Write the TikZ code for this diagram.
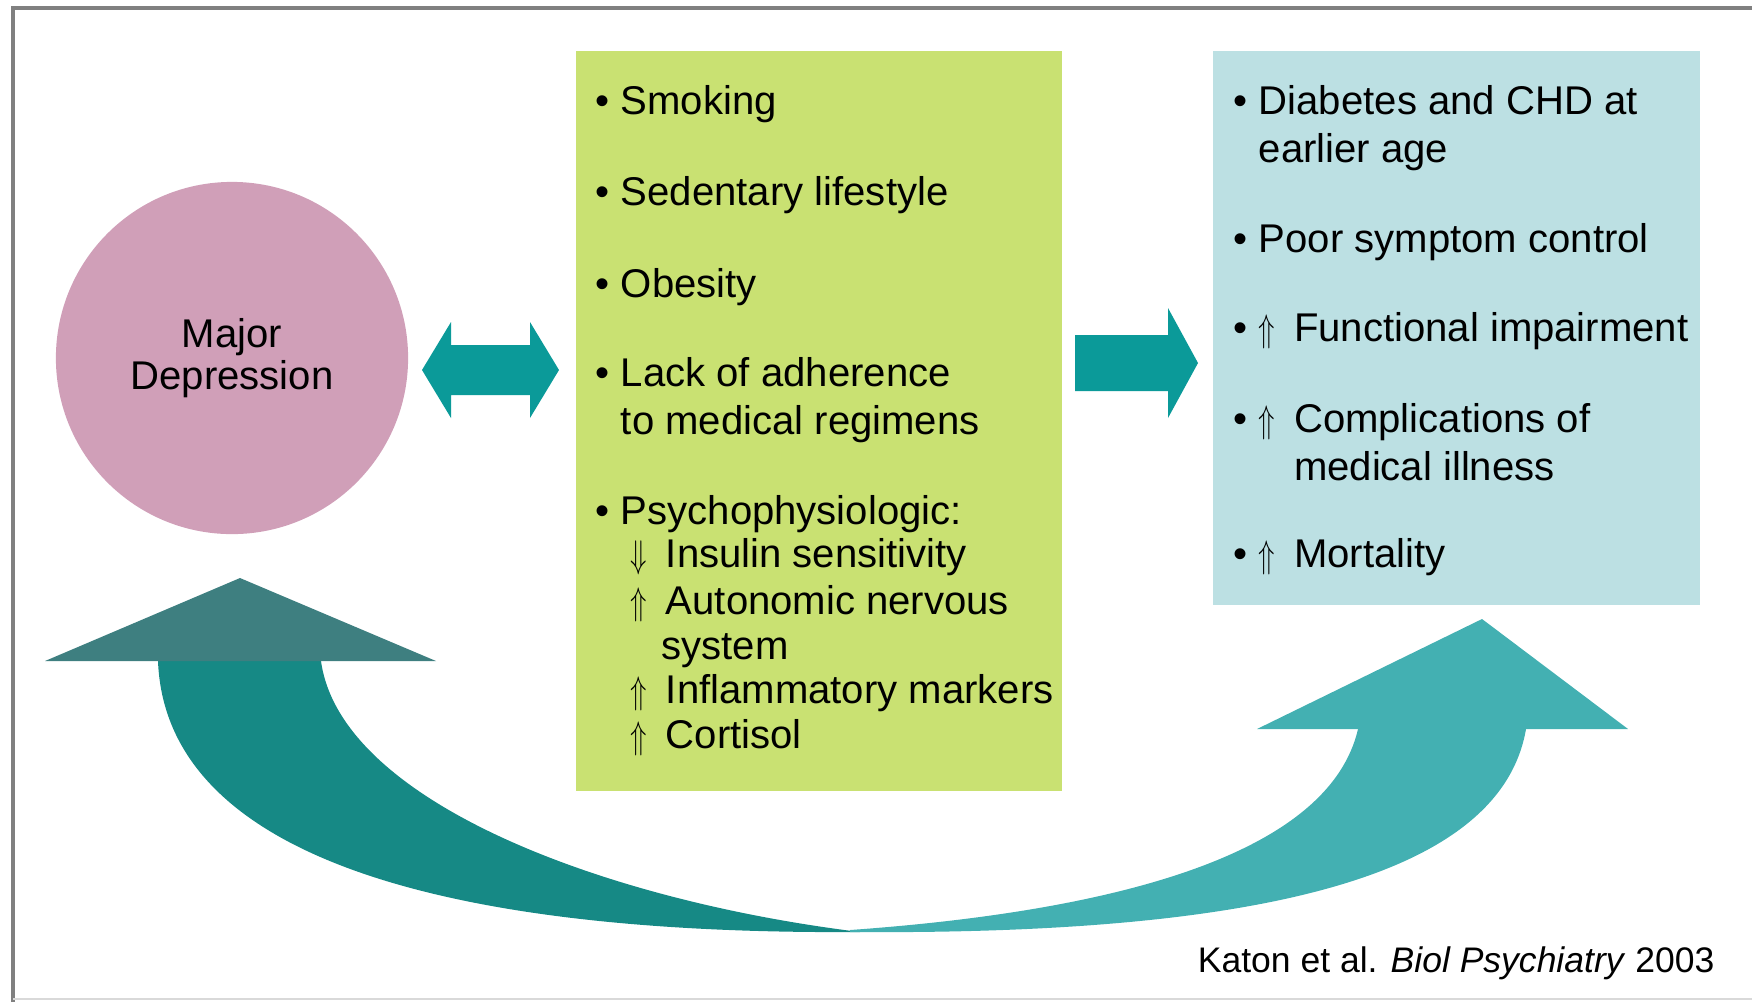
\documentclass[tikz,border=0pt]{standalone}
\usepackage{fontspec}
\setmainfont{Liberation Sans}
\usepackage{tikz}
\usetikzlibrary{positioning}

\definecolor{pinkdep}{RGB}{208,159,184}
\definecolor{limebox}{RGB}{201,225,114}
\definecolor{icebox}{RGB}{188,224,227}
\definecolor{tealarr}{RGB}{11,154,153}
\definecolor{tealdark}{RGB}{22,137,133}
\definecolor{tealhead}{RGB}{62,127,128}
\definecolor{teallight}{RGB}{67,176,178}
\definecolor{framegray}{RGB}{128,128,128}

\newcommand{\upar}{\makebox[10pt][l]{\scalebox{0.7}[1]{$\Uparrow$}}}
\newcommand{\dnar}{\makebox[10pt][l]{\scalebox{0.7}[1]{$\Downarrow$}}}

\begin{document}
\begin{tikzpicture}[x=0.01cm, y=-0.01cm,
    item/.style={anchor=base west, inner sep=0pt, align=left,
      font=\fontsize{11.4}{13.4}\selectfont},
    subitem/.style={item, font=\fontsize{11.4}{12.8}\selectfont}]
    \useasboundingbox (0,0) rectangle (1752,1002);
    %frame
    \draw[framegray, line width=1.2pt] (13,1002) -- (13,8) -- (1752,8);
    \draw[black!15, line width=0.6pt] (13,999) -- (1752,999);
    %boxes
    \node[circle, fill=pinkdep, minimum size=3.52cm, inner sep=0pt, align=center,
      font=\fontsize{11.4}{12}\selectfont] (dep) at (232,358) {Major\\Depression};
    \node[fill=limebox, anchor=north west, inner sep=0pt,
      minimum width=4.86cm, minimum height=7.40cm] (risk) at (575,50) {};
    \node[fill=icebox, anchor=north west, inner sep=0pt,
      minimum width=4.87cm, minimum height=5.54cm] (outc) at (1212,50) {};
    %block arrows
    \fill[tealarr] (422,370) -- (451,322) -- (451,345) -- (530,345) -- (530,322)
      -- (559,370) -- (530,418) -- (530,395) -- (451,395) -- (451,418) -- cycle;
    \fill[tealarr] (1075,335) -- (1168,335) -- (1168,308) -- (1198,363)
      -- (1168,418) -- (1168,391) -- (1075,391) -- cycle;
    %curved arrow back
    \fill[tealdark] (158,661) .. controls (165,840) and (400,935) .. (860,932)
      .. controls (600,900) and (340,800) .. (321,661) -- cycle;
    \fill[teallight] (850,932) .. controls (1250,935) and (1500,880) .. (1526,729)
      -- (1358,729) .. controls (1330,850) and (1130,910) .. (850,930) -- cycle;
    \fill[tealhead] (45,661) -- (240,578) -- (436,661) -- cycle;
    \fill[teallight] (1257,729) -- (1482,619) -- (1628,729) -- cycle;
    %risk factors (multi-line nodes sit on their last line)
    \node[item] (smk) at (595,114) {\textbullet\ Smoking};
    \node[item] (sed) at (595,205) {\textbullet\ Sedentary lifestyle};
    \node[item] (obe) at (595,297) {\textbullet\ Obesity};
    \node[item] (adh) at (595,434) {\textbullet\ Lack of adherence\\\hphantom{\textbullet\ }to medical regimens};
    \node[item] (psy) at (595,524) {\textbullet\ Psychophysiologic:};
    \node[subitem] (ins) at (630,567) {\dnar Insulin sensitivity};
    \node[subitem] (ans) at (630,659) {\upar Autonomic nervous\\\hspace*{8.8pt}system};
    \node[subitem] (inf) at (630,703) {\upar Inflammatory markers};
    \node[subitem] (cor) at (630,748) {\upar Cortisol};
    %outcomes
    \node[item] (dia) at (1233,162) {\textbullet\ Diabetes and CHD at\\\hphantom{\textbullet\ }earlier age};
    \node[item] (poor) at (1233,252) {\textbullet\ Poor symptom control};
    \node[item] (func) at (1233,341) {\textbullet\ \upar Functional impairment};
    \node[item] (comp) at (1233,480) {\textbullet\ \upar Complications of\\\hphantom{\textbullet\ \upar}medical illness};
    \node[item] (mort) at (1233,567) {\textbullet\ \upar Mortality};
    %source
    \node[anchor=base east, inner sep=0pt, font=\fontsize{10.1}{12}\selectfont]
      (cite) at (1715,972) {Katon et al. \textit{Biol Psychiatry} 2003};
\end{tikzpicture}
\end{document}
